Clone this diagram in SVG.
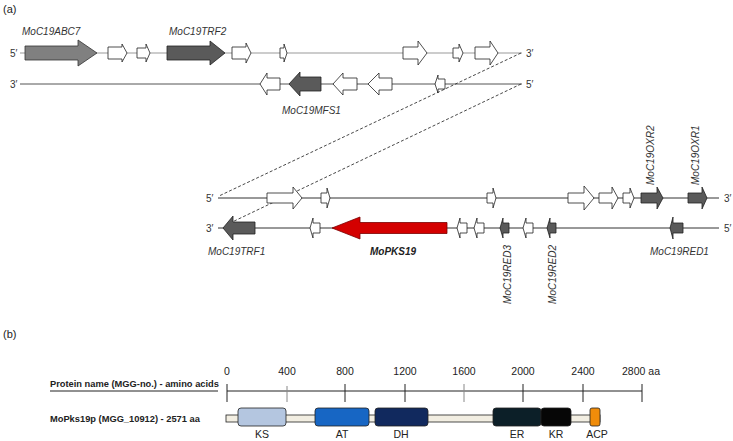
<svg xmlns="http://www.w3.org/2000/svg" width="733" height="441" viewBox="0 0 733 441">
<style>
text{font-family:"Liberation Sans",Arial,sans-serif;fill:#222}
.lab{font-size:10px;font-style:italic;fill:#333}
.end{font-size:10px;fill:#333}
.w{fill:#fff;stroke:#222;stroke-width:0.8}
.d{fill:#5a5a5a;stroke:#222;stroke-width:0.8}
.m{fill:#808080;stroke:#333;stroke-width:0.8}
.r{fill:#d40000;stroke:#7a0000;stroke-width:0.8}
.tk{font-size:10.5px;text-anchor:middle}
.b{font-size:9.3px;font-weight:bold}
.dom{stroke:#222;stroke-width:0.8}
</style>
<text x="3" y="13" style="font-size:11px">(a)</text>
<text x="3" y="338" style="font-size:11px">(b)</text>

<g id="strands">
<line x1="20" y1="53" x2="522" y2="53" stroke="#999" stroke-width="1"/>
<line x1="20" y1="84" x2="522" y2="84" stroke="#555" stroke-width="1"/>
<line x1="218" y1="198" x2="719" y2="198" stroke="#333" stroke-width="1"/>
<line x1="218" y1="228" x2="719" y2="228" stroke="#333" stroke-width="1"/>
<text class="end" x="10" y="57">5′</text>
<text class="end" x="10" y="88">3′</text>
<text class="end" x="526" y="57">3′</text>
<text class="end" x="526" y="88">5′</text>
<text class="end" x="206" y="202">5′</text>
<text class="end" x="206" y="232">3′</text>
<text class="end" x="724" y="202">3′</text>
<text class="end" x="724" y="232">5′</text>
</g>

<g id="connectors" stroke="#333" stroke-width="0.9" stroke-dasharray="3,2" fill="none">
<line x1="521" y1="53" x2="219" y2="196"/>
<line x1="521" y1="84" x2="228" y2="224"/>
</g>

<g id="MoC19ABC7"><path class="m" d="M25 46H78V40L97 53L78 66V60H25Z"/><text class="lab" x="22" y="35">MoC19ABC7</text></g>
<g id="g2"><path class="w" d="M108 47H122V44L127 53L122 62V59H108Z"/></g>
<g id="g3"><path class="w" d="M137 48H146V44L150 53L146 62V58H137Z"/></g>
<g id="MoC19TRF2"><path class="d" d="M167 46H210V41L225 53L210 65V60H167Z"/><text class="lab" x="169" y="35">MoC19TRF2</text></g>
<g id="g5"><path class="w" d="M232 47H246V43L251 53L246 63V59H232Z"/></g>
<g id="g6"><path class="w" d="M280 48H284V44L287 53L284 62V58H280Z"/></g>
<g id="g7"><path class="w" d="M403 47H418V41L427 53L418 65V59H403Z"/></g>
<g id="g8"><path class="w" d="M453 48H459V44L463 53L459 62V58H453Z"/></g>
<g id="g9"><path class="w" d="M475 47H490V41L498 53L490 65V59H475Z"/></g>

<g id="g10"><path class="w" d="M280 78H267V73L260 84L267 95V90H280Z"/></g>
<g id="MoC19MFS1"><path class="d" d="M321 77H300V72L289 84L300 96V91H321Z"/><text class="lab" x="282" y="114">MoC19MFS1</text></g>
<g id="g12"><path class="w" d="M357 78H343V73L333 84L343 95V90H357Z"/></g>
<g id="g13"><path class="w" d="M392 78H379V73L368 84L379 95V90H392Z"/></g>
<g id="g14"><path class="w" d="M445 79H438V75L435 84L438 93V89H445Z"/></g>

<g id="g15"><path class="w" d="M267 193H293V187L302 198L293 209V203H267Z"/></g>
<g id="g16"><path class="w" d="M321 193H327V188L330 198L327 208V203H321Z"/></g>
<g id="g17"><path class="w" d="M487 193H493V188L496 198L493 208V203H487Z"/></g>
<g id="g18"><path class="w" d="M568 193H584V186L594 198L584 210V203H568Z"/></g>
<g id="g19"><path class="w" d="M599 193H612V187L618 198L612 209V203H599Z"/></g>
<g id="g20"><path class="w" d="M623 193H630V188L634 198L630 208V203H623Z"/></g>
<g id="MoC19OXR2"><path class="d" d="M641 193H657V187L663 198L657 209V203H641Z"/><text class="lab" transform="translate(654 185) rotate(-90)">MoC19OXR2</text></g>
<g id="MoC19OXR1"><path class="d" d="M688 193H702V187L707 198L702 209V203H688Z"/><text class="lab" transform="translate(699 185) rotate(-90)">MoC19OXR1</text></g>

<g id="MoC19TRF1"><path class="d" d="M255 222H233V216L223 228L233 240V234H255Z"/><text class="lab" x="208" y="255">MoC19TRF1</text></g>
<g id="g24"><path class="w" d="M320 223H313V218L310 228L313 238V233H320Z"/></g>
<g id="MoPKS19"><path class="r" d="M447 222.5H360V217L332 228L360 239V233.5H447Z"/><text x="393" y="255" style="font-size:10px;font-style:italic;font-weight:bold;text-anchor:middle">MoPKS19</text></g>
<g id="g26"><path class="w" d="M467 223H460V218L457 228L460 238V233H467Z"/></g>
<g id="g27"><path class="w" d="M484 223H477V218L474 228L477 238V233H484Z"/></g>
<g id="MoC19RED3"><path class="d" d="M509 223H503V218L500 228L503 238V233H509Z"/><text class="lab" text-anchor="end" transform="translate(510.5 245) rotate(-90)">MoC19RED3</text></g>
<g id="g29"><path class="w" d="M533 223H526V218L523 228L526 238V233H533Z"/></g>
<g id="MoC19RED2"><path class="d" d="M556 223H550V218L547 228L550 238V233H556Z"/><text class="lab" text-anchor="end" transform="translate(555.5 245) rotate(-90)">MoC19RED2</text></g>
<g id="MoC19RED1"><path class="d" d="M683 223H673V217L670 228L673 239V233H683Z"/><text class="lab" x="650" y="255">MoC19RED1</text></g>

<g id="axis" stroke="#222" stroke-width="1">
<line x1="50" y1="391" x2="218" y2="391"/>
<line x1="227" y1="391" x2="642" y2="391"/>
<line x1="227" y1="384" x2="227" y2="402"/>
<line x1="287" y1="386" x2="287" y2="402" stroke="#888"/>
<line x1="345" y1="384" x2="345" y2="402"/>
<line x1="405" y1="384" x2="405" y2="402"/>
<line x1="464" y1="384" x2="464" y2="402" stroke="#888"/>
<line x1="523" y1="384" x2="523" y2="402"/>
<line x1="583" y1="384" x2="583" y2="402"/>
<line x1="642" y1="384" x2="642" y2="402"/>
</g>
<g id="ticklabels">
<text class="tk" x="227" y="375">0</text>
<text class="tk" x="287" y="375">400</text>
<text class="tk" x="345" y="375">800</text>
<text class="tk" x="405" y="375">1200</text>
<text class="tk" x="464" y="375">1600</text>
<text class="tk" x="523" y="375">2000</text>
<text class="tk" x="583" y="375">2400</text>
<text class="tk" x="641" y="375">2800 aa</text>
</g>
<text class="b" x="50" y="386.5">Protein name (MGG-no.) - amino acids</text>
<text class="b" x="50" y="422">MoPks19p (MGG_10912) - 2571 aa</text>

<g id="MoPks19p">
<rect x="226" y="415" width="374" height="7" fill="#f2eee2" stroke="#222" stroke-width="0.8"/>
<g id="KS"><rect class="dom" x="238" y="408" width="48" height="18" rx="3" fill="#b4c6e0"/><text class="tk" x="262" y="438">KS</text></g>
<g id="AT"><rect class="dom" x="315" y="408" width="54" height="18" rx="3" fill="#1766c4"/><text class="tk" x="342" y="438">AT</text></g>
<g id="DH"><rect class="dom" x="375" y="408" width="53" height="18" rx="3" fill="#11295e"/><text class="tk" x="401" y="438">DH</text></g>
<g id="ER"><rect class="dom" x="493" y="408" width="48" height="18" rx="3" fill="#0c1f28"/><text class="tk" x="517" y="438">ER</text></g>
<g id="KR"><rect class="dom" x="541" y="408" width="30" height="18" rx="3" fill="#060606"/><text class="tk" x="556" y="438">KR</text></g>
<g id="ACP"><rect class="dom" x="590" y="408" width="10" height="18" rx="2" fill="#f08c0a"/><text class="tk" x="597" y="438">ACP</text></g>
</g>
</svg>
